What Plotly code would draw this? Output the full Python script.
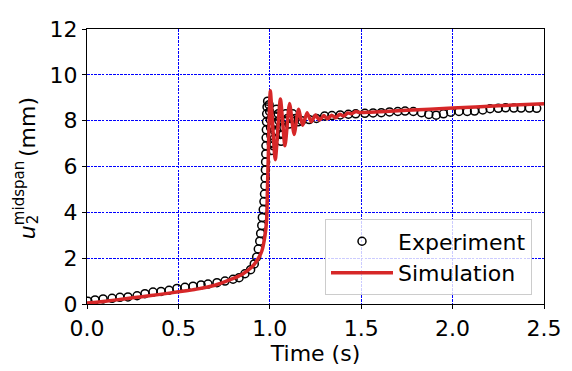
import plotly.graph_objects as go

# Experiment data (time in s, displacement in mm)
exp_t = [0.005, 0.044, 0.088, 0.137, 0.18, 0.224, 0.274, 0.317, 0.361, 0.405, 0.449, 0.492,
         0.536, 0.58, 0.624, 0.662, 0.711, 0.755, 0.799, 0.832, 0.864, 0.895, 0.915, 0.928,
         0.937, 0.945, 0.95, 0.956, 0.959, 0.964, 0.968, 0.971, 0.973, 0.975, 0.976, 0.977,
         0.978, 0.979, 0.980, 0.981, 0.982, 0.983, 0.985, 0.988,
         0.996, 0.999, 1.002, 1.004, 1.006, 1.008, 1.011,
         1.020, 1.023, 1.026, 1.029, 1.032, 1.036,
         1.046, 1.050, 1.054, 1.058, 1.062,
         1.072, 1.077, 1.082, 1.087,
         1.097, 1.105, 1.115, 1.125, 1.140, 1.155,
         1.175, 1.215, 1.255, 1.30, 1.34, 1.385, 1.43, 1.47, 1.52, 1.565, 1.61, 1.655,
         1.70, 1.74, 1.785, 1.83, 1.87, 1.91, 1.95, 1.99, 2.035, 2.08, 2.12, 2.165, 2.205,
         2.25, 2.29, 2.335, 2.375, 2.42, 2.46]
exp_y = [0.12, 0.18, 0.22, 0.25, 0.29, 0.31, 0.36, 0.45, 0.52, 0.55, 0.6, 0.68,
         0.73, 0.78, 0.83, 0.87, 0.93, 1.0, 1.08, 1.15, 1.32, 1.5, 1.75, 2.05,
         2.4, 2.74, 3.08, 3.43, 3.78, 4.12, 4.47, 4.8, 5.16, 5.5, 5.85, 6.2,
         6.55, 6.9, 7.25, 7.6, 7.95, 8.3, 8.6, 8.85,
         8.7, 8.4, 8.05, 7.7, 7.35, 7.0, 6.7,
         6.9, 7.2, 7.55, 7.9, 8.2, 8.5,
         8.3, 8.0, 7.7, 7.4, 7.1,
         7.4, 7.7, 8.0, 8.3,
         8.1, 7.85, 8.1, 8.3, 8.1, 7.95,
         8.0, 8.05, 8.1, 8.2, 8.22, 8.25, 8.28, 8.3, 8.32, 8.34, 8.35, 8.38,
         8.4, 8.42, 8.4, 8.35, 8.27, 8.24, 8.3, 8.37, 8.4, 8.4, 8.42, 8.47, 8.52,
         8.54, 8.56, 8.55, 8.55, 8.55, 8.54]

# Simulation data
sim_t = [0.0, 0.1, 0.2, 0.3, 0.4, 0.5, 0.6, 0.7, 0.78, 0.85, 0.9, 0.93, 0.956, 0.974,
         0.983, 0.987, 0.992, 0.996, 1.003, 1.03, 1.058, 1.083, 1.108, 1.133, 1.157,
         1.18, 1.204, 1.227, 1.25, 1.272, 1.295, 1.316, 1.338, 1.36, 1.383, 1.405,
         1.427, 1.448, 1.47, 1.49, 1.55, 1.75, 2.0, 2.25, 2.5]
sim_y = [0.04, 0.12, 0.22, 0.32, 0.42, 0.53, 0.65, 0.82, 1.05, 1.3, 1.6, 1.9, 2.3, 3.0,
         3.7, 5.0, 6.5, 8.0, 9.3, 6.3, 8.95, 6.9, 8.75, 7.4, 8.5,
         7.8, 8.35, 7.95, 8.25, 8.02, 8.22, 8.08, 8.24, 8.13, 8.28, 8.2,
         8.34, 8.3, 8.4, 8.36, 8.37, 8.45, 8.55, 8.65, 8.74]

x_ticks = [0.0, 0.5, 1.0, 1.5, 2.0, 2.5]
y_ticks = [0, 2, 4, 6, 8, 10, 12]

FONT = "DejaVu Sans"
FS = 22

# page body has an 8px margin; compensate so the plot area lands where the reference has it
W, H = 564, 363
ML, MR, MT, MB = 79, 28, 9, 65
PLOT_L, PLOT_T = 8 + ML, 8 + MT
PLOT_W, PLOT_H = W - ML - MR, H - MT - MB


def px_to_paper(px, py):
    return (px - PLOT_L) / PLOT_W, 1 - (py - PLOT_T) / PLOT_H


fig = go.Figure()
fig.add_trace(go.Scatter(
    x=exp_t, y=exp_y, mode="markers", name="Experiment",
    marker=dict(symbol="circle-open", size=8, color="black", line=dict(width=1.5, color="black")),
))
fig.add_trace(go.Scatter(
    x=sim_t, y=sim_y, mode="lines", name="Simulation",
    line=dict(color="#d62728", width=3.5, shape="spline", smoothing=0.6),
))

axis_common = dict(
    showline=True, linecolor="black", linewidth=1.2, mirror=True,
    ticks="outside", ticklen=4, tickwidth=1, tickcolor="black",
    showgrid=True, gridcolor="blue", gridwidth=0.5, griddash="2.6px,1.1px",
    zeroline=False, tickfont=dict(family=FONT, size=FS, color="black"),
    ticklabeloverflow="allow",
)

fig.update_xaxes(range=[0, 2.5], tickvals=x_ticks, tickformat=".1f",
                 title=dict(text="Time (s)", font=dict(family=FONT, size=FS, color="black"), standoff=6),
                 **axis_common)
fig.update_yaxes(range=[0, 12], tickvals=y_ticks, **axis_common)

# y-axis title built from pieces so the sub/superscript stack like the reference
label_parts = [
    ("<i>u</i>", FS, 27, 230.5),
    ("2", 15, 32.5, 217.5),
    ("midspan", 15, 19, 189.5),
    ("(mm)", FS, 27, 120),
]
for text, size, px, py in label_parts:
    ax_, ay_ = px_to_paper(px, py)
    fig.add_annotation(text=text, x=ax_, y=ay_, xref="paper", yref="paper",
                       xanchor="center", yanchor="middle", textangle=-90, showarrow=False,
                       font=dict(family=FONT, size=size, color="black"))

lx, ly = px_to_paper(532, 297)
fig.update_layout(
    width=W, height=H,
    margin=dict(l=ML, r=MR, t=MT, b=MB),
    plot_bgcolor="white", paper_bgcolor="white",
    font=dict(family=FONT, size=FS, color="black"),
    showlegend=True,
    legend=dict(x=lx, y=ly, xanchor="right", yanchor="bottom",
                bgcolor="rgba(255,255,255,0.8)", bordercolor="#cccccc", borderwidth=1,
                font=dict(family=FONT, size=FS, color="black"),
                itemwidth=62, tracegroupgap=0),
)

fig.write_html("out.html")
